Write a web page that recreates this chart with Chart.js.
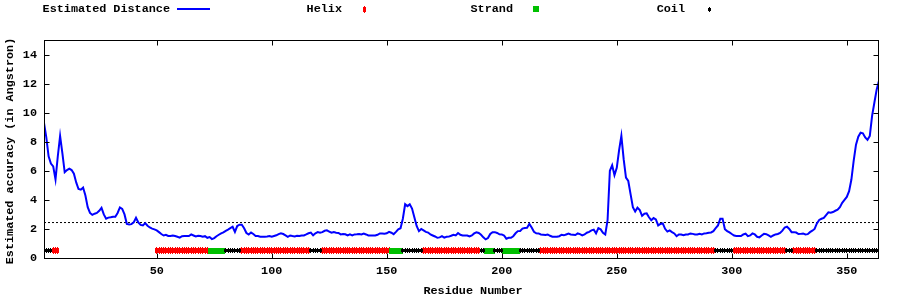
<!DOCTYPE html>
<html>
<head>
<meta charset="utf-8">
<script src="https://cdn.jsdelivr.net/npm/chart.js@4/dist/chart.umd.min.js"></script>
<style>
html,body{margin:0;padding:0;background:#fff;}
#c{display:block;}
</style>
</head>
<body>
<canvas id="c" width="900" height="300"></canvas>
<script>
// Estimated distance per residue (residues 1..364)
const distance = [
9.3, 8.3, 7.0, 6.5, 6.3, 5.4, 7.0, 8.4, 7.2, 5.9,
6.05, 6.15, 6.05, 5.8, 5.2, 4.75, 4.7, 4.85, 4.3, 3.5,
3.1, 2.97, 3.05, 3.1, 3.25, 3.45, 3.0, 2.7, 2.78, 2.8,
2.84, 2.84, 3.1, 3.48, 3.38, 3.0, 2.35, 2.31, 2.33, 2.45,
2.77, 2.45, 2.28, 2.24, 2.4, 2.22, 2.1, 2.02, 1.97, 1.9,
1.78, 1.65, 1.55, 1.6, 1.52, 1.51, 1.55, 1.51, 1.46, 1.4,
1.5, 1.52, 1.51, 1.51, 1.62, 1.55, 1.48, 1.53, 1.51, 1.46,
1.5, 1.39, 1.44, 1.3, 1.37, 1.5, 1.6, 1.7, 1.76, 1.87,
1.95, 2.05, 2.15, 1.8, 2.2, 2.29, 2.29, 2.05, 1.72, 1.62,
1.75, 1.65, 1.52, 1.51, 1.46, 1.46, 1.46, 1.48, 1.51, 1.46,
1.51, 1.56, 1.64, 1.7, 1.65, 1.56, 1.46, 1.55, 1.51, 1.48,
1.53, 1.51, 1.55, 1.55, 1.62, 1.7, 1.75, 1.56, 1.7, 1.78,
1.74, 1.78, 1.87, 1.9, 1.82, 1.74, 1.78, 1.74, 1.72, 1.62,
1.65, 1.63, 1.55, 1.62, 1.55, 1.62, 1.63, 1.65, 1.62, 1.68,
1.62, 1.55, 1.55, 1.55, 1.55, 1.6, 1.69, 1.69, 1.67, 1.7,
1.8, 1.74, 1.64, 1.8, 1.98, 2.05, 2.7, 3.7, 3.57, 3.69,
3.4, 2.8, 2.2, 1.85, 2.0, 1.9, 1.8, 1.75, 1.62, 1.55,
1.48, 1.39, 1.42, 1.5, 1.4, 1.46, 1.47, 1.53, 1.6, 1.55,
1.72, 1.6, 1.55, 1.55, 1.55, 1.48, 1.55, 1.69, 1.77, 1.72,
1.6, 1.42, 1.28, 1.37, 1.65, 1.78, 1.78, 1.72, 1.63, 1.62,
1.55, 1.33, 1.39, 1.39, 1.5, 1.7, 1.85, 1.86, 2.02, 2.06,
2.08, 2.35, 2.1, 1.8, 1.7, 1.69, 1.62, 1.6, 1.58, 1.62,
1.53, 1.46, 1.46, 1.46, 1.5, 1.6, 1.56, 1.62, 1.68, 1.62,
1.6, 1.58, 1.69, 1.64, 1.56, 1.62, 1.74, 1.8, 1.9, 1.95,
1.7, 2.05, 1.97, 1.74, 1.62, 2.6, 6.0, 6.38, 5.7, 6.2,
7.4, 8.4, 6.8, 5.53, 5.3, 4.4, 3.5, 3.2, 3.46, 3.3,
2.9, 3.05, 3.07, 2.8, 2.6, 2.75, 2.66, 2.24, 2.35, 2.38,
2.01, 1.82, 1.9, 1.78, 1.69, 1.5, 1.62, 1.62, 1.57, 1.62,
1.62, 1.69, 1.66, 1.62, 1.62, 1.67, 1.62, 1.69, 1.7, 1.74,
1.76, 1.85, 2.05, 2.24, 2.7, 2.7, 1.98, 1.85, 1.76, 1.65,
1.55, 1.52, 1.51, 1.51, 1.62, 1.68, 1.5, 1.55, 1.69, 1.62,
1.46, 1.42, 1.55, 1.66, 1.64, 1.55, 1.46, 1.55, 1.62, 1.65,
1.72, 1.88, 2.1, 2.15, 2.0, 1.78, 1.78, 1.75, 1.65, 1.66,
1.69, 1.62, 1.64, 1.78, 1.88, 2.0, 2.38, 2.62, 2.7, 2.76,
2.95, 3.14, 3.11, 3.16, 3.25, 3.32, 3.5, 3.8, 4.0, 4.2,
4.6, 5.4, 6.7, 7.8, 8.35, 8.62, 8.58, 8.3, 8.13, 8.4,
9.78, 10.7, 11.6, 12.2
];
const residues = distance.map((_, i) => i + 1);

// Secondary structure segments [first residue, last residue]
const helixRanges  = [[5,7],[50,72],[87,116],[122,151],[166,190],[217,292],[301,323],[327,336]];
const strandRanges = [[73,79],[152,156],[193,196],[201,207]];
const coilRanges   = [[1,4],[80,86],[117,121],[157,165],[191,192],[197,200],[208,216],[293,300],[324,326],[337,364]];
const ssLevel = 0.5;
const cutoff = 2.44;

const xRange = [1, 364];
const yRange = [0, 15];
const xTicks = [50, 100, 150, 200, 250, 300, 350];
const yTicks = [0, 2, 4, 6, 8, 10, 12, 14];
const legendLabels = ['Estimated Distance', 'Helix', 'Strand', 'Coil'];
const xTitle = 'Residue Number';
const yTitle = 'Estimated accuracy (in Angstron)';

const FAMILY = '"Liberation Mono", "DejaVu Sans Mono", monospace';
const FSIZE = 11.8;
const FONT = 'bold ' + FSIZE + 'px ' + FAMILY;

function marker(w, h, color, paint) {
  const c = document.createElement('canvas');
  c.width = w; c.height = h;
  const g = c.getContext('2d');
  g.fillStyle = color;
  paint(g);
  return c;
}
const helixMark  = marker(3, 7, '#ff0000', g => { g.fillRect(0,1,3,5); g.fillRect(1,0,1,7); });
const strandMark = marker(4, 6, '#00c000', g => { g.fillRect(0,0,4,6); });
const coilMark   = marker(3, 5, '#000000', g => { g.fillRect(0,1,3,3); g.fillRect(1,0,1,5); });
const strandLegendMark = marker(6, 6, '#00c000', g => { g.fillRect(0,0,6,6); });
const coilLegendMark = marker(3, 5, '#000000', g => { g.fillRect(1,0,1,5); g.fillRect(0,1,3,3); });

function ssPoints(ranges) {
  const pts = [];
  ranges.forEach(([a, b]) => { for (let r = a; r <= b; r++) pts.push({x: r, y: ssLevel}); });
  return pts;
}

const framePlugin = {
  id: 'frame',
  beforeDatasetsDraw(chart) { chart.ctx.imageSmoothingEnabled = false; },
  afterDraw(chart) {
    const {ctx, chartArea: a, scales: {x, y}} = chart;
    ctx.save();
    ctx.imageSmoothingEnabled = false;
    ctx.strokeStyle = '#000';
    ctx.lineWidth = 1;
    const L = Math.round(a.left) + 0.5, R = Math.round(a.right) - 0.5;
    const T = Math.round(a.top) + 0.5, B = Math.round(a.bottom) + 0.5;
    ctx.strokeRect(L, T, R - L, B - T);
    ctx.beginPath();
    yTicks.forEach(v => {
      const py = Math.round(y.getPixelForValue(v)) + 0.5;
      ctx.moveTo(L, py); ctx.lineTo(L + 5, py);
      ctx.moveTo(R, py); ctx.lineTo(R - 5, py);
    });
    xTicks.forEach(v => {
      const px = Math.round(x.getPixelForValue(v)) + 0.5;
      ctx.moveTo(px, B); ctx.lineTo(px, B - 5);
      ctx.moveTo(px, T); ctx.lineTo(px, T + 5);
    });
    ctx.stroke();

    ctx.fillStyle = '#000';
    ctx.font = FONT;
    ctx.textAlign = 'center';
    ctx.textBaseline = 'middle';
    ctx.fillText(xTitle, 473, 291);
    ctx.save();
    ctx.translate(10, 151);
    ctx.rotate(-Math.PI / 2);
    ctx.fillText(yTitle, 0, 0);
    ctx.restore();

    // key
    const textRight = [170, 342, 513, 685];
    const ky = 9;
    ctx.textAlign = 'right';
    legendLabels.forEach((t, i) => ctx.fillText(t, textRight[i], ky));
    ctx.strokeStyle = '#0000ff';
    ctx.lineWidth = 2;
    ctx.beginPath(); ctx.moveTo(177, 9); ctx.lineTo(210, 9); ctx.stroke();
    ctx.drawImage(helixMark, 363, ky - 3);
    ctx.drawImage(strandLegendMark, 533, ky - 3);
    ctx.drawImage(coilLegendMark, 708, ky - 2);
    ctx.restore();
  }
};

const tickFont = {family: FAMILY, size: FSIZE, weight: 'bold'};

new Chart(document.getElementById('c'), {
  type: 'line',
  data: {
    datasets: [
      {
        label: legendLabels[0],
        data: residues.map((r, i) => ({x: r, y: distance[i]})),
        borderColor: '#0000ff',
        borderWidth: 2,
        pointRadius: 0,
        tension: 0,
        fill: false
      },
      {
        label: legendLabels[3],
        data: ssPoints(coilRanges),
        showLine: false,
        pointStyle: coilMark,
        pointRadius: 3
      },
      {
        label: legendLabels[2],
        data: ssPoints(strandRanges),
        showLine: false,
        pointStyle: strandMark,
        pointRadius: 3
      },
      {
        label: legendLabels[1],
        data: ssPoints(helixRanges),
        showLine: false,
        pointStyle: helixMark,
        pointRadius: 3
      },
      {
        label: 'cutoff',
        data: [{x: xRange[0], y: cutoff}, {x: xRange[1], y: cutoff}],
        borderColor: '#000',
        borderWidth: 1,
        borderDash: [2, 2],
        pointRadius: 0,
        fill: false
      }
    ]
  },
  options: {
    responsive: false,
    animation: false,
    devicePixelRatio: 1,
    events: [],
    layout: {padding: {top: 40, right: 21, left: 0, bottom: 0}},
    plugins: {legend: {display: false}, tooltip: {enabled: false}},
    scales: {
      x: {
        type: 'linear',
        min: xRange[0], max: xRange[1],
        afterBuildTicks: s => { s.ticks = xTicks.map(v => ({value: v})); },
        afterFit: s => { s.height = 42; },
        grid: {display: false, drawTicks: false},
        border: {display: false},
        ticks: {font: tickFont, color: '#000', padding: 6, maxRotation: 0, autoSkip: false}
      },
      y: {
        type: 'linear',
        min: yRange[0], max: yRange[1],
        afterBuildTicks: s => { s.ticks = yTicks.map(v => ({value: v})); },
        afterFit: s => { s.width = 44; },
        grid: {display: false, drawTicks: false},
        border: {display: false},
        ticks: {font: tickFont, color: '#000', padding: 7, autoSkip: false}
      }
    }
  },
  plugins: [framePlugin]
});
</script>
</body>
</html>
